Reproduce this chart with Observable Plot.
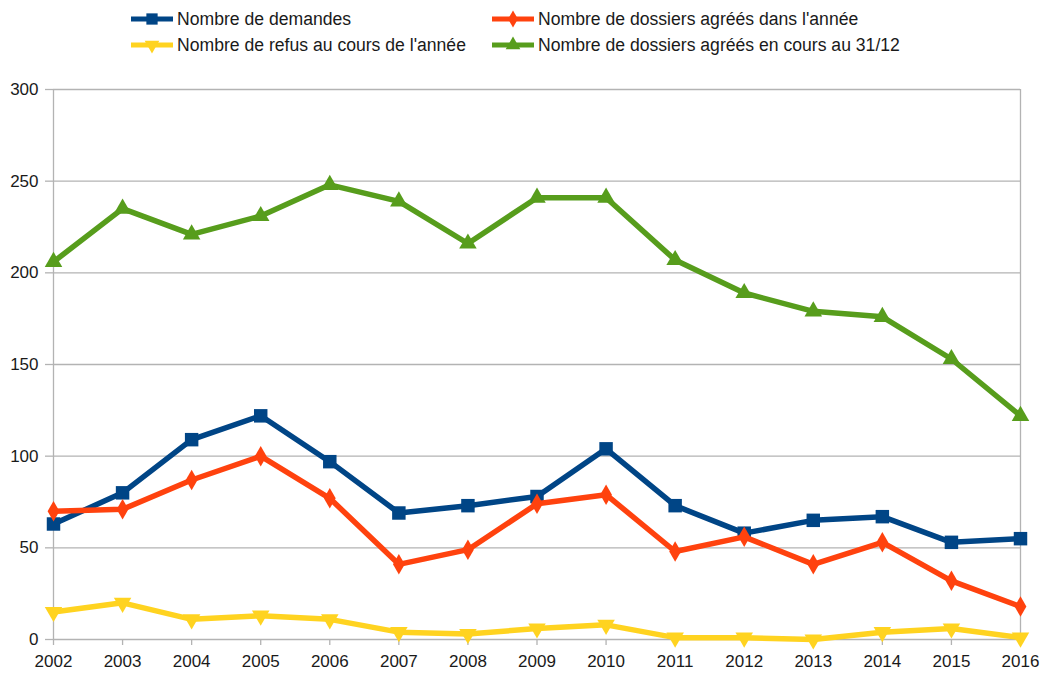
<!DOCTYPE html>
<html><head><meta charset="utf-8">
<script src="https://cdn.jsdelivr.net/npm/d3@7"></script>
<script src="https://cdn.jsdelivr.net/npm/@observablehq/plot@0.6"></script>
<style>
body{margin:0;background:#fff;font-family:"Liberation Sans",Arial,sans-serif;}
#legend{position:relative;height:70px;width:1041px;}
.item{position:absolute;display:flex;align-items:center;font-size:17.6px;color:#1a1a1a;white-space:nowrap;height:20px;}
.item svg{margin-right:3px;}
</style></head><body>
<div id="legend"></div><div id="chart"></div>
<script>
const years    = [2002,2003,2004,2005,2006,2007,2008,2009,2010,2011,2012,2013,2014,2015,2016];
const demandes = [63,80,109,122,97,69,73,78,104,73,58,65,67,53,55];
const agrees   = [70,71,87,100,77,41,49,74,79,48,56,41,53,32,18];
const refus    = [15,20,11,13,11,4,3,6,8,1,1,0,4,6,1];
const encours  = [206,235,221,231,248,239,216,241,241,207,189,179,176,153,122];
const seriesNames  = ["Nombre de demandes","Nombre de dossiers agréés dans l'année","Nombre de refus au cours de l'année","Nombre de dossiers agréés en cours au 31/12"];
const seriesColors = ["#004586","#ff420e","#ffd320","#579d1c"];
const yTicks = [0,50,100,150,200,250,300];

const triDown = {draw(ctx, size){
  const y = -Math.sqrt(size / (Math.sqrt(3) * 3));
  ctx.moveTo(0, -y * 2);
  ctx.lineTo(-Math.sqrt(3) * y, y);
  ctx.lineTo(Math.sqrt(3) * y, y);
  ctx.closePath();
}};
const seriesValues = [demandes, agrees, refus, encours];
const symbols = ["square", "diamond", triDown, "triangle"];
const radii = [7.6, 6.2, 6.5, 6.5];

const marks = [
  Plot.gridY(yTicks, {stroke:"#b3b3b3", strokeOpacity:1, strokeWidth:1.3}),
  Plot.ruleX([years[0], years[years.length-1]], {stroke:"#b3b3b3", strokeWidth:1.3}),
  Plot.axisY(yTicks, {tickSize:8, tickPadding:7, fontSize:17, stroke:"#b3b3b3", fill:"#1a1a1a", strokeWidth:1.3, label:null}),
  Plot.axisX(years, {tickSize:6, tickPadding:9, fontSize:17, tickFormat:d=>String(d), stroke:"#b3b3b3", fill:"#1a1a1a", strokeWidth:1.3, label:null}),
];
seriesValues.forEach((vals, i) => {
  const data = years.map((y, j) => ({year:y, value:vals[j]}));
  marks.push(Plot.line(data, {x:"year", y:"value", stroke:seriesColors[i], strokeWidth:5.5, strokeLinejoin:"round"}));
  marks.push(Plot.dot(data, {x:"year", y:"value", symbol:symbols[i], r:radii[i], fill:seriesColors[i], stroke:"none"}));
});

const chart = Plot.plot({
  width:1041, height:603,
  marginTop:19, marginBottom:34, marginLeft:53, marginRight:21,
  style:{fontFamily:"'Liberation Sans', Arial, sans-serif", background:"#fff", overflow:"visible"},
  x:{type:"linear", domain:[years[0], years[years.length-1]], label:null},
  y:{domain:[0,300], label:null},
  marks
});
document.getElementById("chart").appendChild(chart);

// legend
const legend = document.getElementById("legend");
const pos = [[130,9],[491,9],[130,35],[491,35]];
seriesNames.forEach((name, i) => {
  const div = document.createElement("div");
  div.className = "item";
  div.style.left = pos[i][0] + "px";
  div.style.top = pos[i][1] + "px";
  const svg = d3.create("svg").attr("width", 44).attr("height", 20);
  svg.append("line").attr("x1",1).attr("x2",43).attr("y1",10).attr("y2",10).attr("stroke",seriesColors[i]).attr("stroke-width",5);
  const sym = typeof symbols[i] === "string" ? {square:d3.symbolSquare, diamond:d3.symbolDiamond, triangle:d3.symbolTriangle}[symbols[i]] : symbols[i];
  svg.append("path").attr("transform","translate(22,10)").attr("d", d3.symbol(sym, Math.PI*radii[i]*radii[i]*0.7)()).attr("fill",seriesColors[i]);
  div.appendChild(svg.node());
  const span = document.createElement("span");
  span.textContent = name;
  div.appendChild(span);
  legend.appendChild(div);
});
</script>
</body></html>
